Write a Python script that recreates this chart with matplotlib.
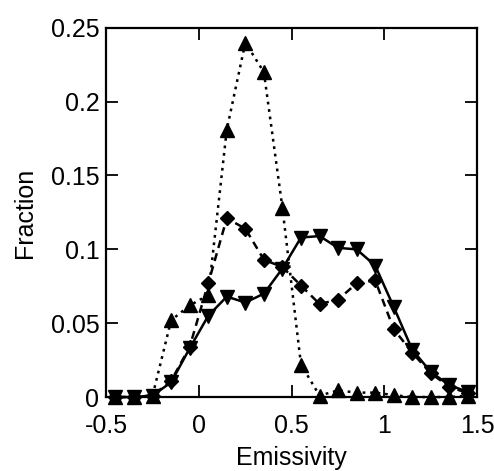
import matplotlib
matplotlib.use("Agg")
import matplotlib.pyplot as plt
import numpy as np

plt.rcParams['font.family'] = ['Liberation Sans', 'DejaVu Sans']

emissivity = [-0.45, -0.35, -0.25, -0.15, -0.05, 0.05, 0.15, 0.25, 0.35, 0.45,
              0.55, 0.65, 0.75, 0.85, 0.95, 1.05, 1.15, 1.25, 1.35, 1.45]

# solid line, down triangles
series_solid = [0.0, 0.0, 0.001, 0.010, 0.033, 0.055, 0.068, 0.064, 0.070, 0.087,
                0.108, 0.109, 0.101, 0.100, 0.089, 0.061, 0.032, 0.017, 0.008, 0.0035]
# dashed line, diamonds
series_dashed = [0.0, 0.0, 0.001, 0.011, 0.034, 0.077, 0.121, 0.114, 0.093, 0.088,
                 0.0755, 0.063, 0.066, 0.077, 0.079, 0.046, 0.030, 0.016, 0.007, 0.0025]
# dotted line, up triangles
series_dotted = [0.0, 0.0, 0.001, 0.052, 0.062, 0.069, 0.181, 0.240, 0.220, 0.128,
                 0.022, 0.001, 0.0045, 0.003, 0.003, 0.0013, 0.0, 0.0, 0.0, 0.001]

xticks = [-0.5, 0, 0.5, 1, 1.5]
xticklabels = ['-0.5', '0', '0.5', '1', '1.5']
yticks = [0, 0.05, 0.1, 0.15, 0.2, 0.25]
yticklabels = ['0', '0.05', '0.1', '0.15', '0.2', '0.25']

fig = plt.figure(figsize=(4.94, 4.71), dpi=100)
ax = fig.add_axes([0.215, 0.157, 0.751, 0.784])

lw = 1.8
ax.plot(emissivity, series_dotted, linestyle=(0, (1.1, 1.9)), color='black', lw=lw,
        marker='^', markersize=9.5, clip_on=False, zorder=3)
ax.plot(emissivity, series_dashed, linestyle=(0, (3.2, 2.2)), color='black', lw=lw,
        marker='D', markersize=7, clip_on=False, zorder=3)
ax.plot(emissivity, series_solid, linestyle='-', color='black', lw=lw,
        marker='v', markersize=9.5, clip_on=False, zorder=3)

ax.set_xlim(-0.5, 1.5)
ax.set_ylim(0, 0.25)
ax.set_xticks(xticks)
ax.set_xticklabels(xticklabels)
ax.set_yticks(yticks)
ax.set_yticklabels(yticklabels)

ax.tick_params(direction='in', length=8.5, width=1.3, top=True, right=True,
               labelsize=18)
ax.tick_params(axis='x', pad=12)
ax.tick_params(axis='y', pad=5)
for s in ax.spines.values():
    s.set_linewidth(1.6)

ax.set_xlabel('Emissivity', fontsize=18, labelpad=6)
ax.set_ylabel('Fraction', fontsize=18, labelpad=10)

fig.savefig('out.png', dpi=100)
